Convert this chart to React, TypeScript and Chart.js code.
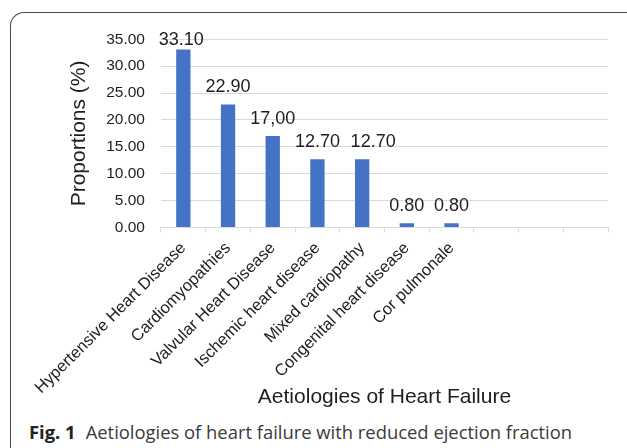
import React, { useEffect, useRef } from "react";
import { Chart, registerables } from "chart.js";

Chart.register(...registerables);

const categories = [
  "Hypertensive Heart Disease",
  "Cardiomyopathies",
  "Valvular Heart Disease",
  "Ischemic heart disease",
  "Mixed cardiopathy",
  "Congenital heart disease",
  "Cor pulmonale",
  "",
  "",
  "",
];
const values = [33.1, 22.9, 17.0, 12.7, 12.7, 0.8, 0.8, null, null, null];
const valueLabels = ["33.10", "22.90", "17,00", "12.70", "12.70", "0.80", "0.80"];
const yTicks = [0, 5, 10, 15, 20, 25, 30, 35];

const FONT = "'Liberation Sans', Arial, sans-serif";
const TEXT = "#1e1e1e";

// horizontal nudges (px) of the value labels, as placed in the original figure
const LABEL_NUDGE: Record<number, number> = { 0: -2, 4: 11 };

const dataLabelPlugin = {
  id: "dataLabels",
  afterDatasetsDraw(chart: any) {
    const ctx = chart.ctx;
    const meta = chart.getDatasetMeta(0);
    const topLimit = chart.chartArea.top + 5.6;
    ctx.save();
    ctx.font = `18px ${FONT}`;
    ctx.fillStyle = TEXT;
    ctx.textAlign = "center";
    ctx.textBaseline = "alphabetic";
    meta.data.forEach((bar: any, i: number) => {
      const label = valueLabels[i];
      if (label === undefined || values[i] == null) return;
      const y = Math.max(bar.y - 12, topLimit);
      ctx.fillText(label, bar.x + (LABEL_NUDGE[i] || 0), y);
    });
    ctx.restore();
  },
};

export default function App() {
  const ref = useRef<HTMLCanvasElement>(null);
  useEffect(() => {
    if (!ref.current) return;
    const chart = new Chart(ref.current, {
      type: "bar",
      data: {
        labels: categories,
        datasets: [
          {
            data: values as any,
            backgroundColor: "#4472C4",
            barPercentage: 0.32,
            categoryPercentage: 1,
          },
        ],
      },
      options: {
        animation: false,
        responsive: false,
        maintainAspectRatio: false,
        devicePixelRatio: 1,
        layout: { padding: { left: 0, right: 19, top: 23, bottom: 0 } },
        plugins: {
          legend: { display: false },
          tooltip: { enabled: false },
        },
        scales: {
          x: {
            afterFit: (axis: any) => {
              axis.paddingLeft = 0;
              axis.paddingRight = 0;
            },
            grid: {
              display: true,
              drawOnChartArea: false,
              drawTicks: true,
              tickLength: 5,
              offset: true,
              color: "#d9d9d9",
            },
            border: { display: true, color: "#d9d9d9", width: 1 },
            ticks: {
              autoSkip: false,
              minRotation: 45,
              maxRotation: 45,
              padding: 6,
              labelOffset: 0,
              color: TEXT,
              font: { family: FONT, size: 16.5 },
            },
            title: {
              display: true,
              text: "Aetiologies of Heart Failure",
              color: TEXT,
              font: { family: FONT, size: 21 },
              padding: { top: -19, bottom: 0 },
            },
          },
          y: {
            min: 0,
            max: 35,
            afterBuildTicks: (axis: any) => {
              axis.ticks = yTicks.map((v) => ({ value: v }));
            },
            grid: { color: "#d9d9d9", drawTicks: false, lineWidth: 1 },
            border: { display: false },
            ticks: {
              padding: 16,
              color: TEXT,
              font: { family: FONT, size: 15.5 },
              callback: (v: any) => Number(v).toFixed(2),
            },
            title: {
              display: true,
              text: "Proportions (%)",
              color: TEXT,
              font: { family: FONT, size: 21 },
              padding: { top: 55, bottom: -2 },
            },
          },
        },
      },
      plugins: [dataLabelPlugin],
    });
    return () => chart.destroy();
  }, []);

  return (
    <div
      style={{
        position: "fixed",
        left: 0,
        top: 0,
        width: 627,
        height: 448,
        background: "#ffffff",
        overflow: "hidden",
      }}
    >
      <div
        style={{
          position: "absolute",
          left: 10,
          top: 12,
          width: 640,
          height: 460,
          borderTop: "1.4px solid #4a4a4a",
          borderLeft: "1.4px solid #4a4a4a",
          borderTopLeftRadius: 14,
          boxSizing: "border-box",
        }}
      />
      <canvas
        ref={ref}
        width={615}
        height={396}
        style={{ position: "absolute", left: 12, top: 14, width: 615, height: 396 }}
      />
      <div
        style={{
          position: "absolute",
          left: 29,
          top: 420,
          whiteSpace: "nowrap",
          fontFamily: "'Open Sans', 'Noto Sans', sans-serif",
          fontSize: 18.4,
          lineHeight: "24px",
          color: "#3a3a3a",
        }}
      >
        <span style={{ fontWeight: 700, color: "#222" }}>Fig. 1</span>
        <span style={{ marginLeft: 10 }}>Aetiologies of heart failure with reduced ejection fraction</span>
      </div>
    </div>
  );
}
